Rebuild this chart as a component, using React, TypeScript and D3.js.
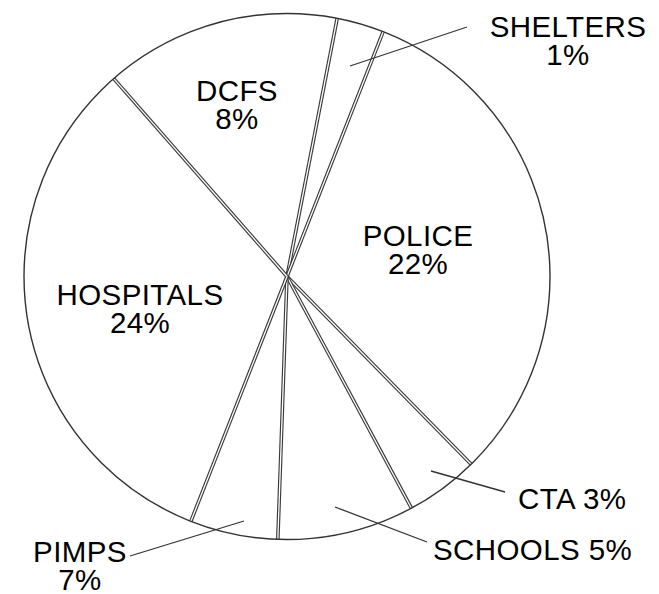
import React from "react";
import * as d3 from "d3";

const categories = ["SHELTERS", "POLICE", "CTA", "SCHOOLS", "PIMPS", "HOSPITALS", "DCFS"];
// slice sizes as drawn (angular share)
const sliceShares = [2.9, 31.7, 4.5, 8.4, 5.4, 32.6, 14.5];
// percentages printed on the labels
const labelPercents = [1, 22, 3, 5, 7, 24, 8];

const W = 659;
const H = 594;
const CX = 287;
const CY = 276.5;
const R = 263;
const START_DEG = 11;

type LabelSpec = {
  x: number;
  y: number;
  anchor: "start" | "middle" | "end";
  oneLine: boolean;
  leader?: [number, number, number, number];
};

const labelLayout: Record<string, LabelSpec> = {
  SHELTERS: { x: 568, y: 37, anchor: "middle", oneLine: false, leader: [350, 66, 467, 27] },
  POLICE: { x: 418, y: 246, anchor: "middle", oneLine: false },
  CTA: { x: 518, y: 509, anchor: "start", oneLine: true, leader: [431, 471, 505, 492] },
  SCHOOLS: { x: 433, y: 560, anchor: "start", oneLine: true, leader: [335, 507, 427, 542] },
  PIMPS: { x: 80, y: 562, anchor: "middle", oneLine: false, leader: [244, 521, 130, 556] },
  HOSPITALS: { x: 140, y: 305, anchor: "middle", oneLine: false },
  DCFS: { x: 237, y: 101, anchor: "middle", oneLine: false },
};

export default function App() {
  const data = categories.map((c, i) => ({ name: c, share: sliceShares[i], pct: labelPercents[i] }));
  const start = (START_DEG * Math.PI) / 180;
  const pie = d3
    .pie<{ name: string; share: number; pct: number }>()
    .sort(null)
    .value((d) => d.share)
    .startAngle(start)
    .endAngle(start + 2 * Math.PI);
  const arcs = pie(data);
  const arcGen = d3.arc<d3.PieArcDatum<{ name: string; share: number; pct: number }>>().innerRadius(0).outerRadius(R);

  const pt = (a: number) => [CX + R * Math.sin(a), CY - R * Math.cos(a)];

  return (
    <svg
      width={W}
      height={H}
      style={{ position: "absolute", left: 0, top: 0, background: "#fff" }}
      fontFamily="Liberation Sans, Arial, sans-serif"
    >
      <rect width={W} height={H} fill="#fff" />
      <g transform={`translate(${CX},${CY})`}>
        {arcs.map((a) => (
          <path key={a.data.name} d={arcGen(a) || ""} fill="#fff" stroke="none" />
        ))}
      </g>
      {arcs.map((a) => {
        const [x, y] = pt(a.startAngle);
        return (
          <g key={"sep" + a.data.name}>
            <line x1={CX} y1={CY} x2={x} y2={y} stroke="#3a3a3a" strokeWidth={3.6} />
            <line x1={CX} y1={CY} x2={x} y2={y} stroke="#fff" strokeWidth={1.3} />
          </g>
        );
      })}
      <circle cx={CX} cy={CY} r={R} fill="none" stroke="#333" strokeWidth={1.4} />
      {arcs.map((a) => {
        const spec = labelLayout[a.data.name];
        return (
          <g key={"lab" + a.data.name}>
            {spec.leader && (
              <line
                x1={spec.leader[0]}
                y1={spec.leader[1]}
                x2={spec.leader[2]}
                y2={spec.leader[3]}
                stroke="#333"
                strokeWidth={1.3}
              />
            )}
            {spec.oneLine ? (
              <text x={spec.x} y={spec.y} textAnchor={spec.anchor} fontSize={29.5} letterSpacing={0.4} fill="#000">
                {`${a.data.name} ${a.data.pct}%`}
              </text>
            ) : (
              <text x={spec.x} y={spec.y} textAnchor={spec.anchor} fontSize={29.5} letterSpacing={0.4} fill="#000">
                <tspan x={spec.x}>{a.data.name}</tspan>
                <tspan x={spec.x} dy={28}>{`${a.data.pct}%`}</tspan>
              </text>
            )}
          </g>
        );
      })}
    </svg>
  );
}
